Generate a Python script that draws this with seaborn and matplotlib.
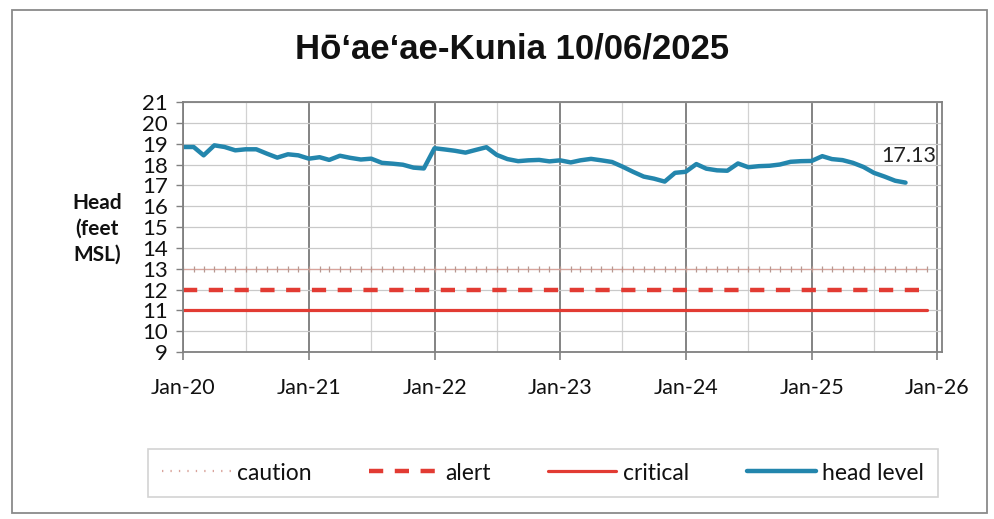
import numpy as np
import pandas as pd
import matplotlib
matplotlib.use("Agg")
import matplotlib.pyplot as plt
import matplotlib.dates as mdates
import seaborn as sns
from matplotlib.lines import Line2D
from matplotlib.patches import Rectangle

# ---------------- data ----------------
title = "Hōʻaeʻae-Kunia 10/06/2025"
start_month = "2020-01-01"
threshold_end = "2025-12-01"
head_level = [
    18.84, 18.84, 18.44, 18.92, 18.84, 18.68, 18.73, 18.73, 18.52, 18.33, 18.49, 18.44,  # 2020
    18.28, 18.35, 18.22, 18.42, 18.32, 18.24, 18.28, 18.08, 18.04, 17.99, 17.85, 17.81,  # 2021
    18.78, 18.72, 18.66, 18.57, 18.70, 18.83, 18.46, 18.26, 18.16, 18.20, 18.22, 18.15,  # 2022
    18.20, 18.10, 18.20, 18.27, 18.20, 18.12, 17.90, 17.65, 17.42, 17.32, 17.18, 17.60,  # 2023
    17.65, 18.02, 17.80, 17.72, 17.70, 18.05, 17.87, 17.92, 17.94, 18.00, 18.13, 18.16,  # 2024
    18.17, 18.40, 18.26, 18.21, 18.08, 17.88, 17.60, 17.42, 17.22, 17.13,                # 2025
]
caution_level = 13
alert_level = 12
critical_level = 11
y_ticks = list(range(9, 22))
legend_labels = ["caution", "alert", "critical", "head level"]

# ---------------- style ----------------
sns.set_theme(style="white")
plt.rcParams["font.family"] = ["Lato", "DejaVu Sans"]

c_head = "#2386ad"
c_red = "#e23b33"
c_caution = "#d9a49c"

fig = plt.figure(figsize=(9.94, 5.19), dpi=100)
ax = fig.add_axes([183 / 994, 1 - 352 / 519, (942 - 183) / 994, (352 - 102) / 519])

head_dates = pd.date_range(start_month, periods=len(head_level), freq="MS")
df_head = pd.DataFrame({"date": head_dates, "head": head_level})
thr_dates = pd.date_range(start_month, threshold_end, freq="MS")
df_thr = pd.DataFrame({
    "date": thr_dates,
    "caution": caution_level,
    "alert": alert_level,
    "critical": critical_level,
})

sns.lineplot(data=df_thr, x="date", y="caution", ax=ax, color=c_caution, lw=0.9,
             marker="|", markersize=5, markeredgewidth=0.9, markeredgecolor="#b89890")
sns.lineplot(data=df_thr, x="date", y="alert", ax=ax, color=c_red, lw=3.2,
             dashes=False, linestyle=(0, (3.2, 2.6)))
sns.lineplot(data=df_thr, x="date", y="critical", ax=ax, color=c_red, lw=2.3)
sns.lineplot(data=df_head, x="date", y="head", ax=ax, color=c_head, lw=3.2)

ax.annotate(f"{head_level[-1]:.2f}", xy=(head_dates[-1], head_level[-1]),
            xytext=(2, 12), textcoords="offset points", ha="center", va="bottom",
            fontsize=15.5, color="#222222")

# axes
ax.set_xlim(pd.Timestamp("2020-01-01"), pd.Timestamp("2026-01-15"))
ax.set_ylim(9, 21)
ax.set_yticks(y_ticks)
ax.xaxis.set_major_locator(mdates.YearLocator())
ax.xaxis.set_major_formatter(mdates.DateFormatter("%b-%y"))
ax.xaxis.set_minor_locator(mdates.MonthLocator(bymonth=7))
ax.set_xlabel("")
ax.set_ylabel("")

ax.grid(False)
ax.grid(True, axis="y", which="major", color="#c9c9c9", lw=0.9)
ax.grid(True, axis="x", which="major", color="#7a7a7a", lw=1.3)
ax.grid(True, axis="x", which="minor", color="#d2d2d2", lw=0.9)
ax.set_axisbelow(True)

for s in ax.spines.values():
    s.set_color("#808080")
    s.set_linewidth(1.3)

ax.tick_params(axis="x", which="major", bottom=True, length=6, width=1.2, color="#808080",
               pad=13, labelsize=15.5, labelcolor="#111111")
ax.tick_params(axis="x", which="minor", bottom=False)
ax.tick_params(axis="y", left=True, length=5, width=1, color="#808080", pad=6,
               labelsize=16, labelcolor="#111111")

# figure texts
fig.text(512 / 994, 1 - 49 / 519, title, ha="center", va="center", fontsize=25,
         fontweight="bold", family=["Liberation Sans", "DejaVu Sans"], color="#111111")
fig.text(97 / 994, 1 - 229 / 519, "Head\n(feet\nMSL)", ha="center", va="center",
         fontsize=15, fontweight="bold", linespacing=1.38, color="#111111")

# legend
handles = [
    Line2D([0], [0], color=c_caution, lw=1.6, linestyle=(0, (0.6, 3.2))),
    Line2D([0], [0], color=c_red, lw=3.2, linestyle=(0, (3.2, 2.6))),
    Line2D([0], [0], color=c_red, lw=2.3),
    Line2D([0], [0], color=c_head, lw=3.2),
]
leg = fig.legend(handles, legend_labels, loc="center", ncol=4,
                 bbox_to_anchor=(543 / 994, 1 - 473 / 519), fontsize=16.5,
                 frameon=True, fancybox=False, edgecolor="#c8c8c8",
                 handlelength=3.0, handletextpad=0.3, columnspacing=2.5,
                 borderpad=0.6, borderaxespad=0)
leg.get_frame().set_linewidth(1.2)
for t in leg.get_texts():
    t.set_color("#111111")

# outer border
fig.patches.append(Rectangle((12 / 994, 1 - 513 / 519), (987 - 12) / 994, (513 - 10) / 519,
                             transform=fig.transFigure, fill=False, edgecolor="#8a8a8a",
                             lw=1.3))

fig.savefig("out.png", dpi=100)
